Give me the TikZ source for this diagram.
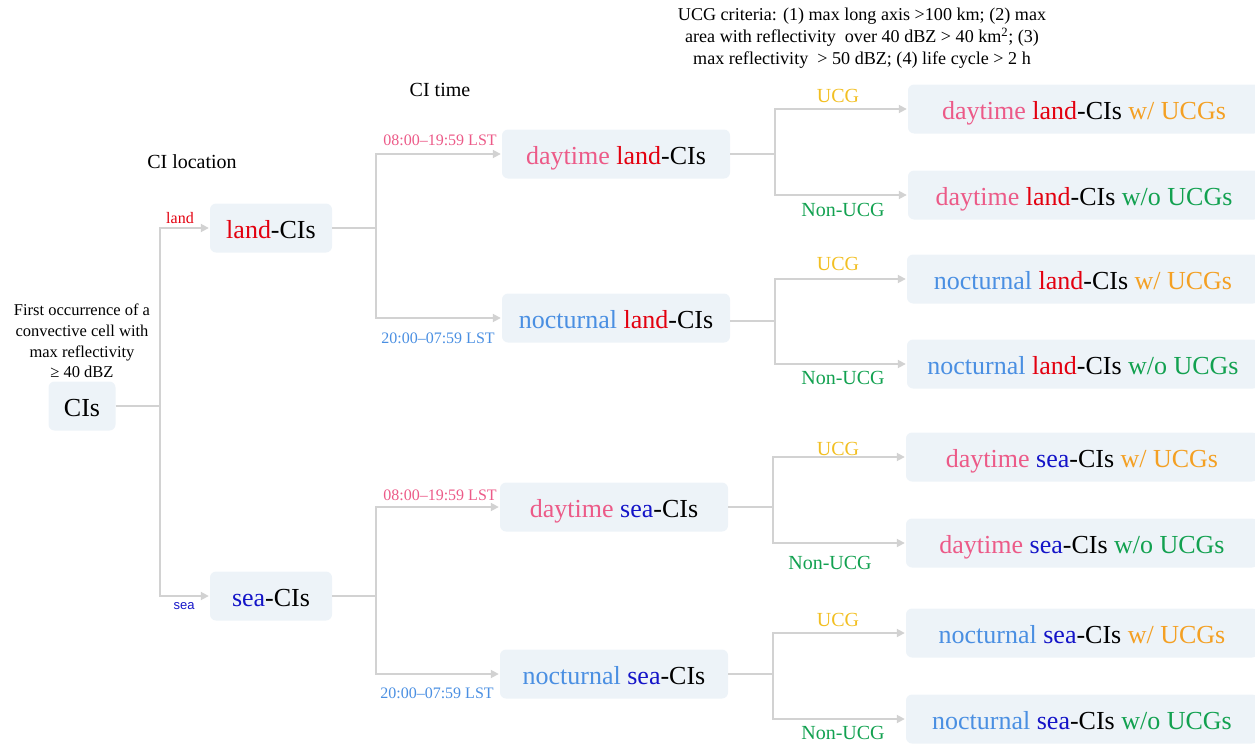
\documentclass[tikz,border=0pt]{standalone}
\usepackage{fontspec}
\setmainfont{Liberation Serif}
\newfontfamily\labelsans{Liberation Sans}
\usetikzlibrary{arrows.meta}

\definecolor{daycol}{HTML}{EC5A88}
\definecolor{landcol}{HTML}{E3000F}
\definecolor{seacol}{HTML}{1414C8}
\definecolor{noccol}{HTML}{4A8FE2}
\definecolor{withcol}{HTML}{F4A023}
\definecolor{ucgcol}{HTML}{F2BF22}
\definecolor{wocol}{HTML}{12A150}
\definecolor{boxfill}{HTML}{EDF3F8}
\definecolor{linecol}{HTML}{D2D2D2}

\newcommand\txday{\textcolor{daycol}{daytime}}
\newcommand\txnoc{\textcolor{noccol}{nocturnal}}
\newcommand\txland{\textcolor{landcol}{land}}
\newcommand\txsea{\textcolor{seacol}{sea}}
\newcommand\txwith{\textcolor{withcol}{w/ UCGs}}
\newcommand\txwo{\textcolor{wocol}{w/o UCGs}}

\tikzset{
  catbox/.style={fill=boxfill, rounded corners=6pt, inner sep=0pt,
    minimum height=49pt, text height=20pt, text depth=0pt,
    font=\fontsize{26}{30}\selectfont},
  rootbox/.style={catbox, minimum width=67pt},
  lvlone/.style={catbox, minimum width=122pt},
  lvltwo/.style={catbox, minimum width=228pt},
  leafbox/.style={catbox, minimum width=352pt},
  conn/.style={draw=linecol, line width=1.8pt},
  arr/.style={conn, -{Triangle[width=8pt,length=8pt]}, shorten >=1pt},
  tag/.style={inner sep=0pt, font=\fontsize{16}{19}\selectfont},
  branch/.style={inner sep=0pt, font=\fontsize{20}{24}\selectfont},
  heading/.style={inner sep=0pt, font=\fontsize{20}{24}\selectfont},
  note/.style={inner sep=0pt, align=center}
}

\begin{document}
\begin{tikzpicture}[x=1pt, y=-1pt]
\useasboundingbox (0,0) rectangle (1255,744);

% headings and notes
\node[note, font=\fontsize{18.1}{22}\selectfont] (criteria) at (862,38)
  {UCG criteria: (1) max long axis >100 km; (2) max\\
   area with reflectivity\ \ over 40 dBZ > 40 km\textsuperscript{2}; (3)\\
   max reflectivity\ \ > 50 dBZ; (4) life cycle > 2 h};
\node[heading] (hloc) at (192,162) {CI location};
\node[heading] (htime) at (440,90) {CI time};
\node[note, font=\fontsize{16.5}{20.7}\selectfont] (defn) at (82,341)
  {First occurrence of a\\convective cell with\\max reflectivity\\≥ 40 dBZ};

% boxes
\node[rootbox] (ci) at (82,406) {CIs};
\node[lvlone] (land) at (271,228) {\txland-CIs};
\node[lvlone] (sea) at (271,596) {\txsea-CIs};

\node[lvltwo] (dland) at (616,154) {\txday\ \txland-CIs};
\node[lvltwo] (nland) at (616,318) {\txnoc\ \txland-CIs};
\node[lvltwo] (dsea) at (614,507) {\txday\ \txsea-CIs};
\node[lvltwo] (nsea) at (614,674) {\txnoc\ \txsea-CIs};

\node[leafbox] (dlw) at (1084,109) {\txday\ \txland-CIs \txwith};
\node[leafbox] (dlo) at (1084,195) {\txday\ \txland-CIs \txwo};
\node[leafbox] (nlw) at (1083,279) {\txnoc\ \txland-CIs \txwith};
\node[leafbox] (nlo) at (1083,364) {\txnoc\ \txland-CIs \txwo};
\node[leafbox] (dsw) at (1082,457) {\txday\ \txsea-CIs \txwith};
\node[leafbox] (dso) at (1082,543) {\txday\ \txsea-CIs \txwo};
\node[leafbox] (nsw) at (1082,633) {\txnoc\ \txsea-CIs \txwith};
\node[leafbox] (nso) at (1082,719) {\txnoc\ \txsea-CIs \txwo};

% branch points
\coordinate (j0) at (160,406);
\coordinate (j1) at (376,228);
\coordinate (j2) at (376,596);
\coordinate (j3) at (775,154);
\coordinate (j4) at (775,321);
\coordinate (j5) at (773,507);
\coordinate (j6) at (773,674);

% connectors
\draw[conn] (ci.east) -- (j0);
\draw[arr] (j0) |- (land.west);
\draw[arr] (j0) |- (sea.west);

\draw[conn] (land.east) -- (j1);
\draw[arr] (j1) |- (dland.west);
\draw[arr] (j1) |- (nland.west);
\draw[conn] (sea.east) -- (j2);
\draw[arr] (j2) |- (dsea.west);
\draw[arr] (j2) |- (nsea.west);

\draw[conn] (dland.east) -- (j3);
\draw[arr] (j3) |- (dlw.west);
\draw[arr] (j3) |- (dlo.west);
\draw[conn] (nland.east |- j4) -- (j4);
\draw[arr] (j4) |- (nlw.west);
\draw[arr] (j4) |- (nlo.west);
\draw[conn] (dsea.east) -- (j5);
\draw[arr] (j5) |- (dsw.west);
\draw[arr] (j5) |- (dso.west);
\draw[conn] (nsea.east) -- (j6);
\draw[arr] (j6) |- (nsw.west);
\draw[arr] (j6) |- (nso.west);

% branch labels
\node[tag, text=landcol] (tland) at (180,218) {land};
\node[tag, text=seacol, font=\labelsans\fontsize{13}{16}\selectfont] (tsea) at (184,606) {sea};

\node[tag, text=daycol] (t1) at (440,140) {08:00–19:59 LST};
\node[tag, text=noccol] (t2) at (438,338) {20:00–07:59 LST};
\node[tag, text=daycol] (t3) at (440,495) {08:00–19:59 LST};
\node[tag, text=noccol] (t4) at (437,693) {20:00–07:59 LST};

\node[branch, text=ucgcol] (u1) at (838,96) {UCG};
\node[branch, text=wocol] (n1) at (843,210) {Non-UCG};
\node[branch, text=ucgcol] (u2) at (838,264) {UCG};
\node[branch, text=wocol] (n2) at (843,378) {Non-UCG};
\node[branch, text=ucgcol] (u3) at (838,449) {UCG};
\node[branch, text=wocol] (n3) at (830,563) {Non-UCG};
\node[branch, text=ucgcol] (u4) at (838,620) {UCG};
\node[branch, text=wocol] (n4) at (843,733) {Non-UCG};
\end{tikzpicture}
\end{document}
